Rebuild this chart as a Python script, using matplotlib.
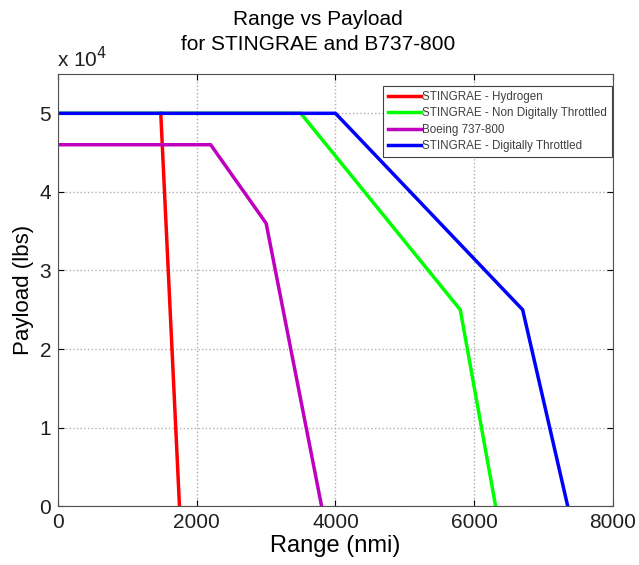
import matplotlib
matplotlib.use("Agg")
from matplotlib import pyplot as plt

plt.rcParams['font.family'] = ['Liberation Sans', 'DejaVu Sans']

# Range (nmi) / payload (lbs) corner points
h2_range = [1480, 1750]
h2_payload = [50000, 0]

nondig_range = [0, 3500, 5800, 6310]
nondig_payload = [50000, 50000, 25000, 0]

b737_range = [0, 2200, 3000, 3800]
b737_payload = [46000, 46000, 36000, 0]

dig_range = [0, 4000, 6700, 7350]
dig_payload = [50000, 50000, 25000, 0]

xticks = [0, 2000, 4000, 6000, 8000]
yticks = [0, 10000, 20000, 30000, 40000, 50000]
ytick_labels = ['0', '1', '2', '3', '4', '5']

fig = plt.figure(figsize=(6.39, 5.65), dpi=100)
ax = fig.add_axes([0.091, 0.104, 0.868, 0.765])

ax.plot(h2_range, h2_payload, color='#ff0000', lw=2.5, label='STINGRAE - Hydrogen')
ax.plot(nondig_range, nondig_payload, color='#00ff00', lw=2.5, label='STINGRAE - Non Digitally Throttled')
ax.plot(b737_range, b737_payload, color='#bf00bf', lw=2.5, label='Boeing 737-800')
ax.plot(dig_range, dig_payload, color='#0000ff', lw=2.5, label='STINGRAE - Digitally Throttled')

ax.set_xlim(0, 8000)
ax.set_ylim(0, 55000)
ax.set_xticks(xticks)
ax.set_yticks(yticks)
ax.set_yticklabels(ytick_labels)
ax.tick_params(direction='in', labelsize=15, top=True, right=True, length=4, pad=5,
               labelcolor='#202020')
ax.grid(True, linestyle=':', color='#b0b0b0', lw=1)
for s in ax.spines.values():
    s.set_color('#505050')
    s.set_linewidth(0.8)

# matlab-style exponent label above the y axis
ax.text(-0.002, 1.006, r'x 10$^4$', transform=ax.transAxes, fontsize=15, ha='left', va='bottom',
        color='#202020')

ax.set_xlabel('Range (nmi)', fontsize=17, labelpad=2)
ax.set_ylabel('Payload (lbs)', fontsize=16, labelpad=4)
fig.text(0.498, 0.966, 'Range vs Payload', fontsize=15, ha='center', va='center')
fig.text(0.498, 0.921, 'for STINGRAE and B737-800', fontsize=15, ha='center', va='center')

leg = ax.legend(loc='upper right', bbox_to_anchor=(0.999, 0.973), fontsize=8.4,
                fancybox=False, framealpha=1, edgecolor='#404040',
                handlelength=2.8, handletextpad=0.1, labelspacing=0.38,
                borderaxespad=0.0, borderpad=0.45)
leg.get_frame().set_linewidth(0.8)
for t in leg.get_texts():
    t.set_color('#404040')

fig.savefig('out.png', dpi=100)
